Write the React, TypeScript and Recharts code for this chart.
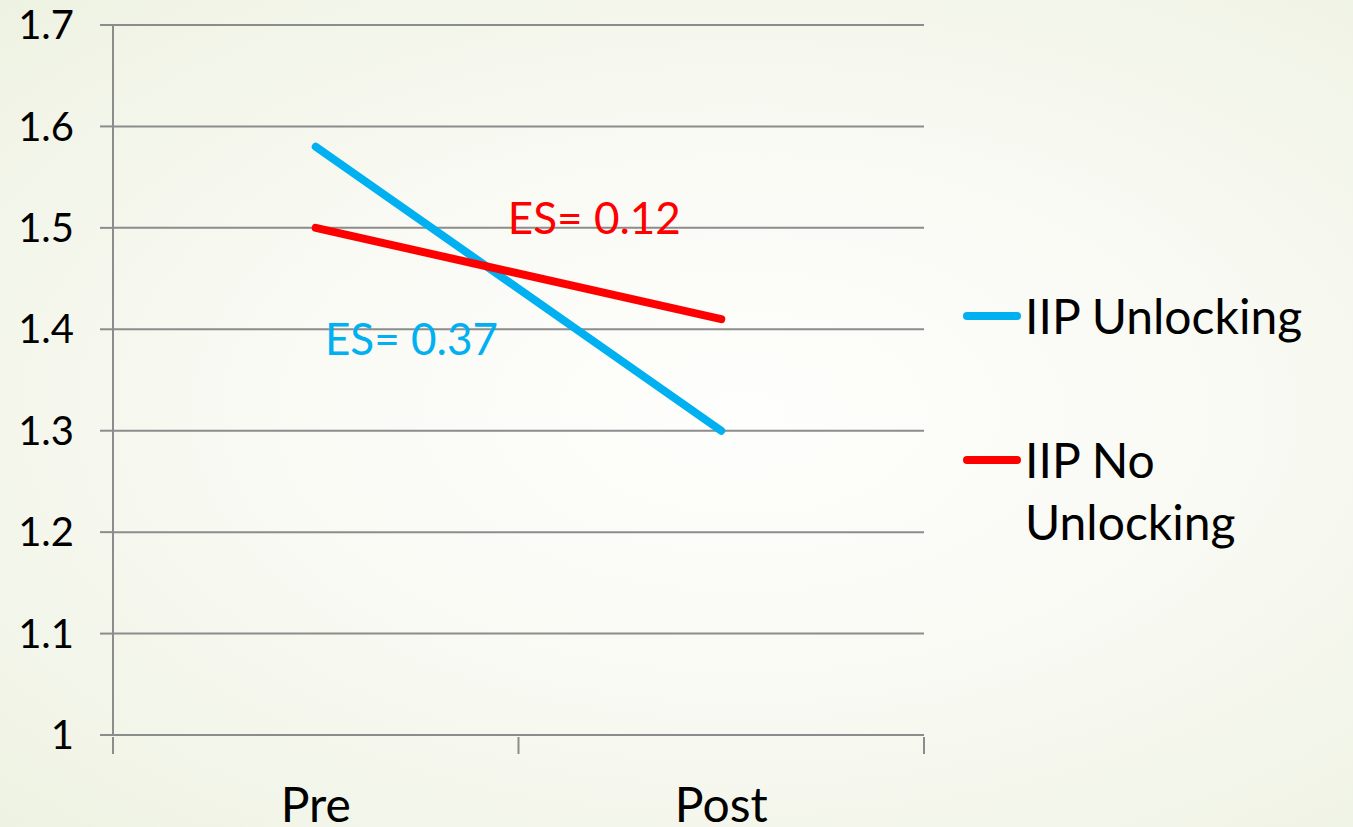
import React from "react";
import {
  LineChart,
  Line,
  XAxis,
  YAxis,
  CartesianGrid,
  Legend,
  ReferenceDot,
} from "recharts";

const categories = ["Pre", "Post"];
const unlocking = [1.58, 1.3];
const noUnlocking = [1.5, 1.41];
const yTicks = [1, 1.1, 1.2, 1.3, 1.4, 1.5, 1.6, 1.7];

// effect size annotations: [x position, y value, text]
const esLabels = [
  { x: 1.187, y: 1.509, text: "ES= 0.12", color: "#ff0000" },
  { x: 0.736, y: 1.39, text: "ES= 0.37", color: "#00b0f0" },
];

const series = [
  { key: "unlocking", name: "IIP Unlocking", color: "#00b0f0" },
  { key: "noUnlocking", name: "IIP No Unlocking", color: "#ff0000" },
];

const data = categories.map((c, i) => ({
  name: c,
  pos: i + 0.5,
  unlocking: unlocking[i],
  noUnlocking: noUnlocking[i],
}));

const FONT = "Lato, 'Open Sans', sans-serif";
const GRID = "#8c8c8c";

function XTick({ x, y, payload }: any) {
  const v = payload.value;
  if (Number.isInteger(v)) {
    return <line x1={x} x2={x} y1={y} y2={y + 17} stroke={GRID} strokeWidth={2} />;
  }
  const label = categories[Math.floor(v)];
  return (
    <text x={x} y={y + 85} textAnchor="middle" fontSize={48} fill="#000" fontFamily={FONT}>
      {label}
    </text>
  );
}

function LegendContent() {
  return (
    <div style={{ fontFamily: FONT, fontSize: 48, color: "#000", lineHeight: "62px" }}>
      {series.map((s, i) => (
        <div key={s.key} style={{ display: "flex", alignItems: "flex-start", marginBottom: i === 0 ? 82 : 0 }}>
          <div
            style={{
              width: 58,
              height: 8,
              borderRadius: 4,
              background: s.color,
              marginTop: 27,
              marginRight: 4,
              flexShrink: 0,
            }}
          />
          <div style={{ width: 330 }}>{s.name}</div>
        </div>
      ))}
    </div>
  );
}

export default function App() {
  return (
    <div
      style={{
        position: "absolute",
        left: 0,
        top: 0,
        width: 1353,
        height: 827,
        background:
          "radial-gradient(ellipse at 55% 50%, #fefefc 0%, #f9faf4 45%, #eef2e2 100%)",
        overflow: "hidden",
      }}
    >
      <LineChart
        width={1353}
        height={827}
        data={data}
        margin={{ top: 25, right: 429, left: 0, bottom: 0 }}
      >
        <CartesianGrid vertical={false} stroke={GRID} strokeWidth={2} />
        <XAxis
          dataKey="pos"
          type="number"
          domain={[0, 2]}
          ticks={[0, 0.5, 1, 1.5, 2]}
          height={92}
          tickSize={0}
          axisLine={{ stroke: GRID, strokeWidth: 2 }}
          tickLine={false}
          tick={<XTick />}
          interval={0}
        />
        <YAxis
          type="number"
          domain={[1, 1.7]}
          ticks={yTicks}
          width={113}
          tickSize={13}
          tickMargin={26}
          interval={0}
          axisLine={{ stroke: GRID, strokeWidth: 2 }}
          tickLine={{ stroke: GRID, strokeWidth: 2 }}
          tickFormatter={(v: number) => String(+v.toFixed(1))}
          tick={{ fontSize: 40, fill: "#000", fontFamily: FONT }}
        />
        {series.map((s) => (
          <Line
            key={s.key}
            dataKey={s.key}
            name={s.name}
            stroke={s.color}
            strokeWidth={8}
            strokeLinecap="round"
            dot={false}
            activeDot={false}
            isAnimationActive={false}
          />
        ))}
        {esLabels.map((l) => (
          <ReferenceDot
            key={l.text}
            x={l.x}
            y={l.y}
            r={0}
            stroke="none"
            label={{
              value: l.text,
              position: "center",
              fill: l.color,
              fontSize: 44,
              fontFamily: FONT,
            }}
          />
        ))}
        <Legend
          layout="horizontal"
          align="center"
          verticalAlign="middle"
          wrapperStyle={{ left: 963, top: 285, width: 390 }}
          content={<LegendContent />}
        />
      </LineChart>
    </div>
  );
}
